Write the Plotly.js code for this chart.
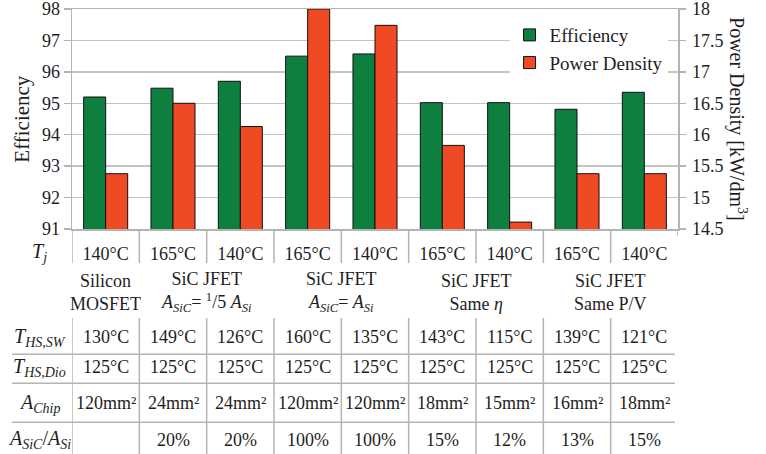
<!DOCTYPE html>
<html>
<head>
<meta charset="utf-8">
<script src="https://cdn.plot.ly/plotly-3.0.1.min.js"></script>
<style>
html,body{margin:0;padding:0;background:#fff;}
#chart{width:766px;height:454px;}
</style>
</head>
<body>
<div id="chart"></div>
<script>
// ---- data ----
const categories = ['Si-140', 'S15-165', 'S15-140', 'S1-165', 'S1-140', 'Seta-165', 'Seta-140', 'SPV-165', 'SPV-140'];
const tjLabels = ['140°C', '165°C', '140°C', '165°C', '140°C', '165°C', '140°C', '165°C', '140°C'];
const efficiency = [95.2, 95.48, 95.7, 96.5, 96.57, 95.02, 95.02, 94.81, 95.35];
const powerDensity = [15.38, 16.5, 16.13, 18.0, 17.74, 15.83, 14.61, 15.38, 15.38];
const groupLabels = ['Silicon<br>MOSFET', 'SiC JFET<br><i>A</i><sub><i>SiC</i></sub>= <sup>1</sup>/5 <i>A</i><sub><i>Si</i></sub>',
  'SiC JFET<br><i>A</i><sub><i>SiC</i></sub>= <i>A</i><sub><i>Si</i></sub>', 'SiC JFET<br>Same <i>η</i>', 'SiC JFET<br>Same P/V'];
const groupFirst = [0, 1, 3, 5, 7];
const groupLast = [0, 2, 4, 6, 8];
const rowLabels = ['<i>T</i><sub><i>HS,SW</i></sub>', '<i>T</i><sub><i>HS,Dio</i></sub>', '<i>A</i><sub><i>Chip</i></sub>', '<i>A</i><sub><i>SiC</i></sub>/<i>A</i><sub><i>Si</i></sub>'];
const tHsSw = ['130°C', '149°C', '126°C', '160°C', '135°C', '143°C', '115°C', '139°C', '121°C'];
const tHsDio = ['125°C', '125°C', '125°C', '125°C', '125°C', '125°C', '125°C', '125°C', '125°C'];
const aChip = ['120mm²', '24mm²', '24mm²', '120mm²', '120mm²', '18mm²', '15mm²', '16mm²', '18mm²'];
const areaRatio = ['', '20%', '20%', '100%', '100%', '15%', '12%', '13%', '15%'];
const tableRows = [tHsSw, tHsDio, aChip, areaRatio];

// ---- style ----
const FONT = '"Liberation Serif", "Times New Roman", serif';
const TXT = '#1e1e1e';
const GRID = '#c4c4c4';
const AXIS = '#b4b4b4';
const GREEN = '#0f7f40';
const RED = '#ef4a23';

const traces = [
  {type: 'bar', name: 'Efficiency', x: categories, y: efficiency, yaxis: 'y',
   width: 0.327, offset: -0.327,
   marker: {color: GREEN, line: {color: '#111', width: 1}}},
  {type: 'bar', name: 'Power Density', x: categories, y: powerDensity, yaxis: 'y2',
   width: 0.327, offset: 0,
   marker: {color: RED, line: {color: '#111', width: 1}}}
];

// plot area: top 9px, height 220px
const rowY = [-0.491, -0.628, -0.791, -0.957];
const annotations = [];
annotations.push({xref: 'paper', yref: 'paper', x: -0.083, y: 0.5, text: 'Efficiency', textangle: -90,
  showarrow: false, font: {family: FONT, size: 21, color: TXT}, xanchor: 'center', yanchor: 'middle'});
annotations.push({xref: 'paper', yref: 'paper', x: 1.099, y: 0.5, text: 'Power Density [kW/dm<sup>3</sup>]', textangle: 90,
  showarrow: false, font: {family: FONT, size: 20, color: TXT}, xanchor: 'center', yanchor: 'middle'});
annotations.push({xref: 'paper', yref: 'paper', x: -0.053, y: -0.105, text: '<i>T</i><sub><i>j</i></sub>',
  showarrow: false, font: {family: FONT, size: 20, color: TXT}, xanchor: 'center', yanchor: 'middle'});
groupLabels.forEach((g, i) => {
  annotations.push({xref: 'x', yref: 'paper', x: (groupFirst[i] + groupLast[i]) / 2, y: -0.288, text: g,
    showarrow: false, font: {family: FONT, size: 18, color: TXT}, xanchor: 'center', yanchor: 'middle', align: 'center'});
});
rowLabels.forEach((r, k) => {
  annotations.push({xref: 'paper', yref: 'paper', x: -0.053, y: rowY[k], text: r,
    showarrow: false, font: {family: FONT, size: 20, color: TXT}, xanchor: 'center', yanchor: 'middle'});
  tableRows[k].forEach((v, i) => {
    if (v === '') return;
    annotations.push({xref: 'x', yref: 'paper', x: i, y: rowY[k], text: v,
      showarrow: false, font: {family: FONT, size: 18, color: TXT}, xanchor: 'center', yanchor: 'middle'});
  });
});

const shapes = [];
for (let i = 0; i < categories.length; i++) {
  shapes.push({type: 'line', xref: 'x', yref: 'paper', x0: i - 0.5, x1: i - 0.5, y0: 0, y1: -0.155,
    line: {color: AXIS, width: 1.5}});
  shapes.push({type: 'line', xref: 'x', yref: 'paper', x0: i - 0.5, x1: i - 0.5, y0: -0.405, y1: -1.03,
    line: {color: AXIS, width: 1.5}});
}
shapes.push({type: 'line', xref: 'x', yref: 'paper', x0: categories.length - 0.5, x1: categories.length - 0.5, y0: 0, y1: -0.032,
  line: {color: AXIS, width: 1.5}});
[-0.569, -0.701, -0.878].forEach(y => {
  shapes.push({type: 'line', xref: 'paper', yref: 'paper', x0: -0.099, x1: 0.995, y0: y, y1: y,
    line: {color: AXIS, width: 1.5}});
});

const layout = {
  width: 766, height: 454,
  margin: {l: 72, r: 88, t: 9, b: 225},
  paper_bgcolor: '#fff', plot_bgcolor: '#fff',
  font: {family: FONT, color: TXT, size: 18},
  showlegend: true,
  legend: {x: 0.722, y: 0.968, xanchor: 'left', yanchor: 'top', bgcolor: '#fff', borderwidth: 0,
    font: {family: FONT, size: 19, color: TXT}, itemwidth: 30},
  xaxis: {type: 'category', range: [-0.5, 8.5], showgrid: false, zeroline: false,
    showline: true, linecolor: AXIS, linewidth: 1.5, mirror: true,
    ticks: '', tickvals: categories, ticktext: tjLabels, ticklabelstandoff: 8,
    tickfont: {family: FONT, size: 18, color: TXT}},
  yaxis: {range: [91, 98], dtick: 1, showgrid: true, gridcolor: GRID, gridwidth: 1.5, zeroline: false,
    showline: true, linecolor: AXIS, linewidth: 1.5, ticks: 'outside', ticklen: 7, tickcolor: AXIS, tickwidth: 1.5,
    ticklabeloverflow: 'allow',
    tickfont: {family: FONT, size: 18, color: TXT}},
  yaxis2: {overlaying: 'y', side: 'right', range: [14.5, 18], dtick: 0.5, showgrid: false, zeroline: false,
    showline: true, linecolor: AXIS, linewidth: 1.5, ticks: 'outside', ticklen: 6, tickcolor: AXIS, tickwidth: 1.5,
    ticklabelstandoff: 3, ticklabeloverflow: 'allow',
    tickfont: {family: FONT, size: 18, color: TXT}},
  annotations: annotations,
  shapes: shapes
};

Plotly.newPlot('chart', traces, layout, {staticPlot: true, displayModeBar: false});
</script>
</body>
</html>
